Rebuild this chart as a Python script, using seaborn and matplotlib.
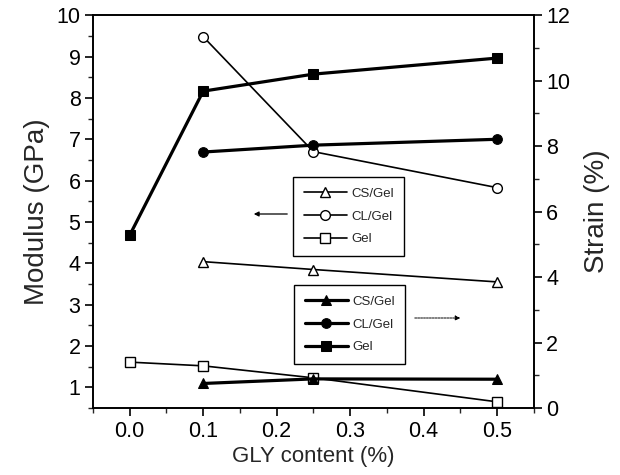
import matplotlib
matplotlib.use("Agg")
import matplotlib.pyplot as plt
import seaborn as sns
import pandas as pd
from matplotlib.ticker import MultipleLocator
from matplotlib import font_manager

# ---- data ----
gly_gel = [0.0, 0.1, 0.25, 0.5]
gly_comp = [0.1, 0.25, 0.5]

# Modulus (GPa), left axis (open markers)
mod_cs = [4.04, 3.85, 3.55]
mod_cl = [9.48, 6.70, 5.83]
mod_gel = [1.61, 1.52, 1.23, 0.65]

# Strain (%), right axis (filled markers)
strain_cs = [0.75, 0.89, 0.88]
strain_cl = [7.82, 8.03, 8.21]
strain_gel = [5.28, 9.68, 10.20, 10.69]

series_names = ["CS/Gel", "CL/Gel", "Gel"]

sns.set_style("ticks")
plt.rcParams["font.family"] = ["Liberation Sans", "DejaVu Sans"]
plt.rcParams["axes.linewidth"] = 1.2

names = {f.name for f in font_manager.fontManager.ttflist}
narrow = "Liberation Sans Narrow" if "Liberation Sans Narrow" in names else "Liberation Sans"

fig = plt.figure(figsize=(6.2, 4.75), dpi=100)
ax = fig.add_axes([0.15, 0.141, 0.711, 0.827])
ax2 = ax.twinx()

markers = ["^", "o", "s"]
mod_x = [gly_comp, gly_comp, gly_gel]
mod_y = [mod_cs, mod_cl, mod_gel]
str_y = [strain_cs, strain_cl, strain_gel]

for name, m, xs, ys in zip(series_names, markers, mod_x, mod_y):
    df = pd.DataFrame({"x": xs, "y": ys})
    sns.lineplot(data=df, x="x", y="y", ax=ax, color="black", lw=1.2,
                 marker=m, markersize=7, markerfacecolor="white",
                 markeredgecolor="black", markeredgewidth=1.0, label=name)

for name, m, xs, ys in zip(series_names, markers, mod_x, str_y):
    df = pd.DataFrame({"x": xs, "y": ys})
    sns.lineplot(data=df, x="x", y="y", ax=ax2, color="black", lw=2.3,
                 marker=m, markersize=7, markerfacecolor="black",
                 markeredgecolor="black", label=name)

ax.set_xlim(-0.05, 0.55)
ax.set_ylim(0.5, 10)
ax2.set_ylim(0, 12)

ax.xaxis.set_major_locator(MultipleLocator(0.1))
ax.xaxis.set_minor_locator(MultipleLocator(0.05))
ax.yaxis.set_major_locator(MultipleLocator(1))
ax.yaxis.set_minor_locator(MultipleLocator(0.5))
ax2.yaxis.set_major_locator(MultipleLocator(2))
ax2.yaxis.set_minor_locator(MultipleLocator(1))
ax.xaxis.set_major_formatter(matplotlib.ticker.FormatStrFormatter("%.1f"))

for a in (ax, ax2):
    a.tick_params(which="major", direction="out", length=6, width=1.2,
                  labelsize=15.5, colors="black", pad=3)
    a.tick_params(which="minor", direction="out", length=3.5, width=1.0)
    for s in a.spines.values():
        s.set_visible(True)
        s.set_color("black")
        s.set_linewidth(1.2)

ax.set_xlabel("GLY content (%)", fontsize=16, labelpad=3)
ax.set_ylabel("Modulus (GPa)", fontsize=20, labelpad=5)
ax2.set_ylabel("Strain (%)", fontsize=20, labelpad=10)

leg_kw = dict(loc="upper left", bbox_transform=fig.transFigure,
              borderaxespad=0, fancybox=False, edgecolor="black",
              framealpha=1, handlelength=3.3, handletextpad=0.3,
              labelspacing=0.8, borderpad=0.8,
              prop={"family": narrow, "size": 9.5})
leg1 = ax.legend(bbox_to_anchor=(293 / 620, 1 - 177 / 475), **leg_kw)
leg1.get_frame().set_linewidth(1.0)
leg2 = ax2.legend(bbox_to_anchor=(294 / 620, 1 - 285 / 475), **leg_kw)
leg2.get_frame().set_linewidth(1.0)

# arrows indicating the axes
fig.patches.append(matplotlib.patches.FancyArrowPatch(
    (290 / 620, 1 - 214 / 475), (251 / 620, 1 - 214 / 475),
    transform=fig.transFigure, arrowstyle="-|>", mutation_scale=7,
    color="black", lw=0.9))
fig.patches.append(matplotlib.patches.FancyArrowPatch(
    (412 / 620, 1 - 318 / 475), (463 / 620, 1 - 318 / 475),
    transform=fig.transFigure, arrowstyle="-|>", mutation_scale=7,
    color="black", lw=0.7, linestyle=(0, (2, 1))))

fig.savefig("out.png", dpi=100)
